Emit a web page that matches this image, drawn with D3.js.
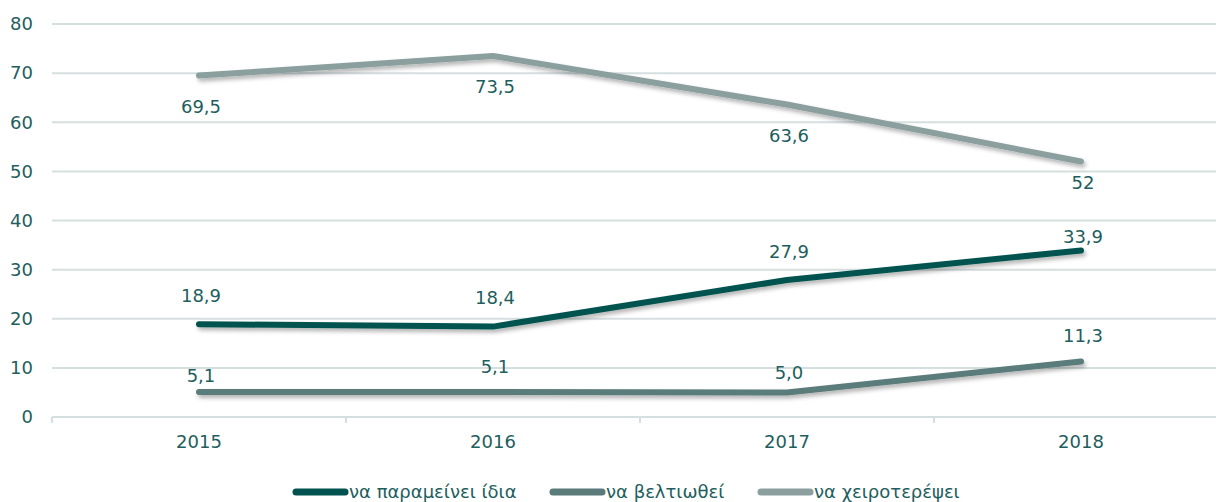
<!DOCTYPE html>
<html>
<head>
<meta charset="utf-8">
<script src="https://cdn.jsdelivr.net/npm/d3@7"></script>
<style>
  body { margin: 0; background: #fff; font-family: "DejaVu Sans", sans-serif; }
  #chart { width: 1216px; height: 502px; }
  .tick text { fill: #1e5e5e; font-size: 18px; font-family: "DejaVu Sans", sans-serif; }
  .label { fill: #1e5e5e; font-size: 18px; text-anchor: middle; }
  .legend text { fill: #1e5e5e; font-size: 18px; }
</style>
</head>
<body>
<div id="chart"></div>
<script>
// data
const years = ["2015", "2016", "2017", "2018"];
const seriesNames = ["να παραμείνει ίδια", "να βελτιωθεί", "να χειροτερέψει"];
const same = [18.9, 18.4, 27.9, 33.9];
const better = [5.1, 5.1, 5.0, 11.3];
const worse = [69.5, 73.5, 63.6, 52];
const sameLabels = ["18,9", "18,4", "27,9", "33,9"];
const betterLabels = ["5,1", "5,1", "5,0", "11,3"];
const worseLabels = ["69,5", "73,5", "63,6", "52"];
const yTicks = [0, 10, 20, 30, 40, 50, 60, 70, 80];

// label placement (px from the point, to the label centre)
const sameDy = [-28, -29, -28, -14];
const betterDy = [-16, -25, -20, -26];
const worseDy = [31, 31, 31, 21];

const width = document.querySelector("#chart").clientWidth;
const height = document.querySelector("#chart").clientHeight;

const svg = d3.select("#chart")
    .append("svg")
    .attr("width", width)
    .attr("height", height);

// drop shadow for the lines
const defs = svg.append("defs");
const filter = defs.append("filter").attr("id", "shadow")
    .attr("x", "-5%").attr("y", "-50%").attr("width", "110%").attr("height", "200%");
filter.append("feDropShadow")
    .attr("dx", 2).attr("dy", 3).attr("stdDeviation", 2)
    .attr("flood-color", "#000").attr("flood-opacity", 0.3);

const margin = {top: 24, left: 52, right: -12, bottom: 85};

const xScale = d3.scaleBand()
    .domain(years)
    .range([margin.left, width - margin.right]);

const yScale = d3.scaleLinear()
    .domain([0, 80])
    .range([height - margin.bottom, margin.top]);

// grid lines
svg.append("g")
    .selectAll("line")
    .data(yTicks)
    .enter()
    .append("line")
        .attr("x1", margin.left)
        .attr("x2", width)
        .attr("y1", d => yScale(d))
        .attr("y2", d => yScale(d))
        .attr("stroke", "#d6dfe0")
        .attr("stroke-width", 2);

// y axis labels
const yAxis = svg.append("g")
    .attr("transform", `translate(${margin.left - 19},0)`)
    .call(d3.axisLeft(yScale).tickValues(yTicks).tickSize(0).tickPadding(0));
yAxis.select(".domain").remove();

// x axis
const xAxis = svg.append("g")
    .attr("transform", `translate(0,${yScale(0)})`)
    .call(d3.axisBottom(xScale).tickSize(0).tickPadding(18));
xAxis.select(".domain").remove();

// band boundary ticks
svg.append("g")
    .selectAll("line")
    .data(years)
    .enter()
    .append("line")
        .attr("x1", d => xScale(d))
        .attr("x2", d => xScale(d))
        .attr("y1", yScale(0))
        .attr("y2", yScale(0) + 6)
        .attr("stroke", "#d6dfe0")
        .attr("stroke-width", 2);

const series = [
    {name: seriesNames[0], values: same, labels: sameLabels, dy: sameDy, color: "#02534f"},
    {name: seriesNames[1], values: better, labels: betterLabels, dy: betterDy, color: "#5a7b7a"},
    {name: seriesNames[2], values: worse, labels: worseLabels, dy: worseDy, color: "#8b9f9f"}
];

const line = d3.line()
    .x((d, i) => xScale(years[i]) + xScale.bandwidth() / 2)
    .y(d => yScale(d));

// draw lines (light first)
series.slice().reverse().forEach(function(s) {
    svg.append("path")
        .datum(s.values)
        .attr("d", line)
        .attr("fill", "none")
        .attr("stroke", s.color)
        .attr("stroke-width", 6)
        .attr("stroke-linecap", "round")
        .attr("stroke-linejoin", "round")
        .attr("filter", "url(#shadow)");
});

// data labels
series.forEach(function(s) {
    svg.append("g")
        .selectAll("text")
        .data(s.values)
        .enter()
        .append("text")
            .attr("class", "label")
            .attr("x", (d, i) => xScale(years[i]) + xScale.bandwidth() / 2 + 2)
            .attr("y", (d, i) => yScale(d) + s.dy[i])
            .attr("dy", "0.35em")
            .text((d, i) => s.labels[i]);
});

// legend
const legendX = [293, 550, 758];
const legend = svg.append("g").attr("class", "legend");
series.forEach(function(s, i) {
    legend.append("line")
        .attr("x1", legendX[i] + 3)
        .attr("x2", legendX[i] + 52)
        .attr("y1", 492)
        .attr("y2", 492)
        .attr("stroke", s.color)
        .attr("stroke-width", 7)
        .attr("stroke-linecap", "round");
    legend.append("text")
        .attr("x", legendX[i] + 56)
        .attr("y", 492)
        .attr("dy", "0.35em")
        .text(s.name);
});
</script>
</body>
</html>
